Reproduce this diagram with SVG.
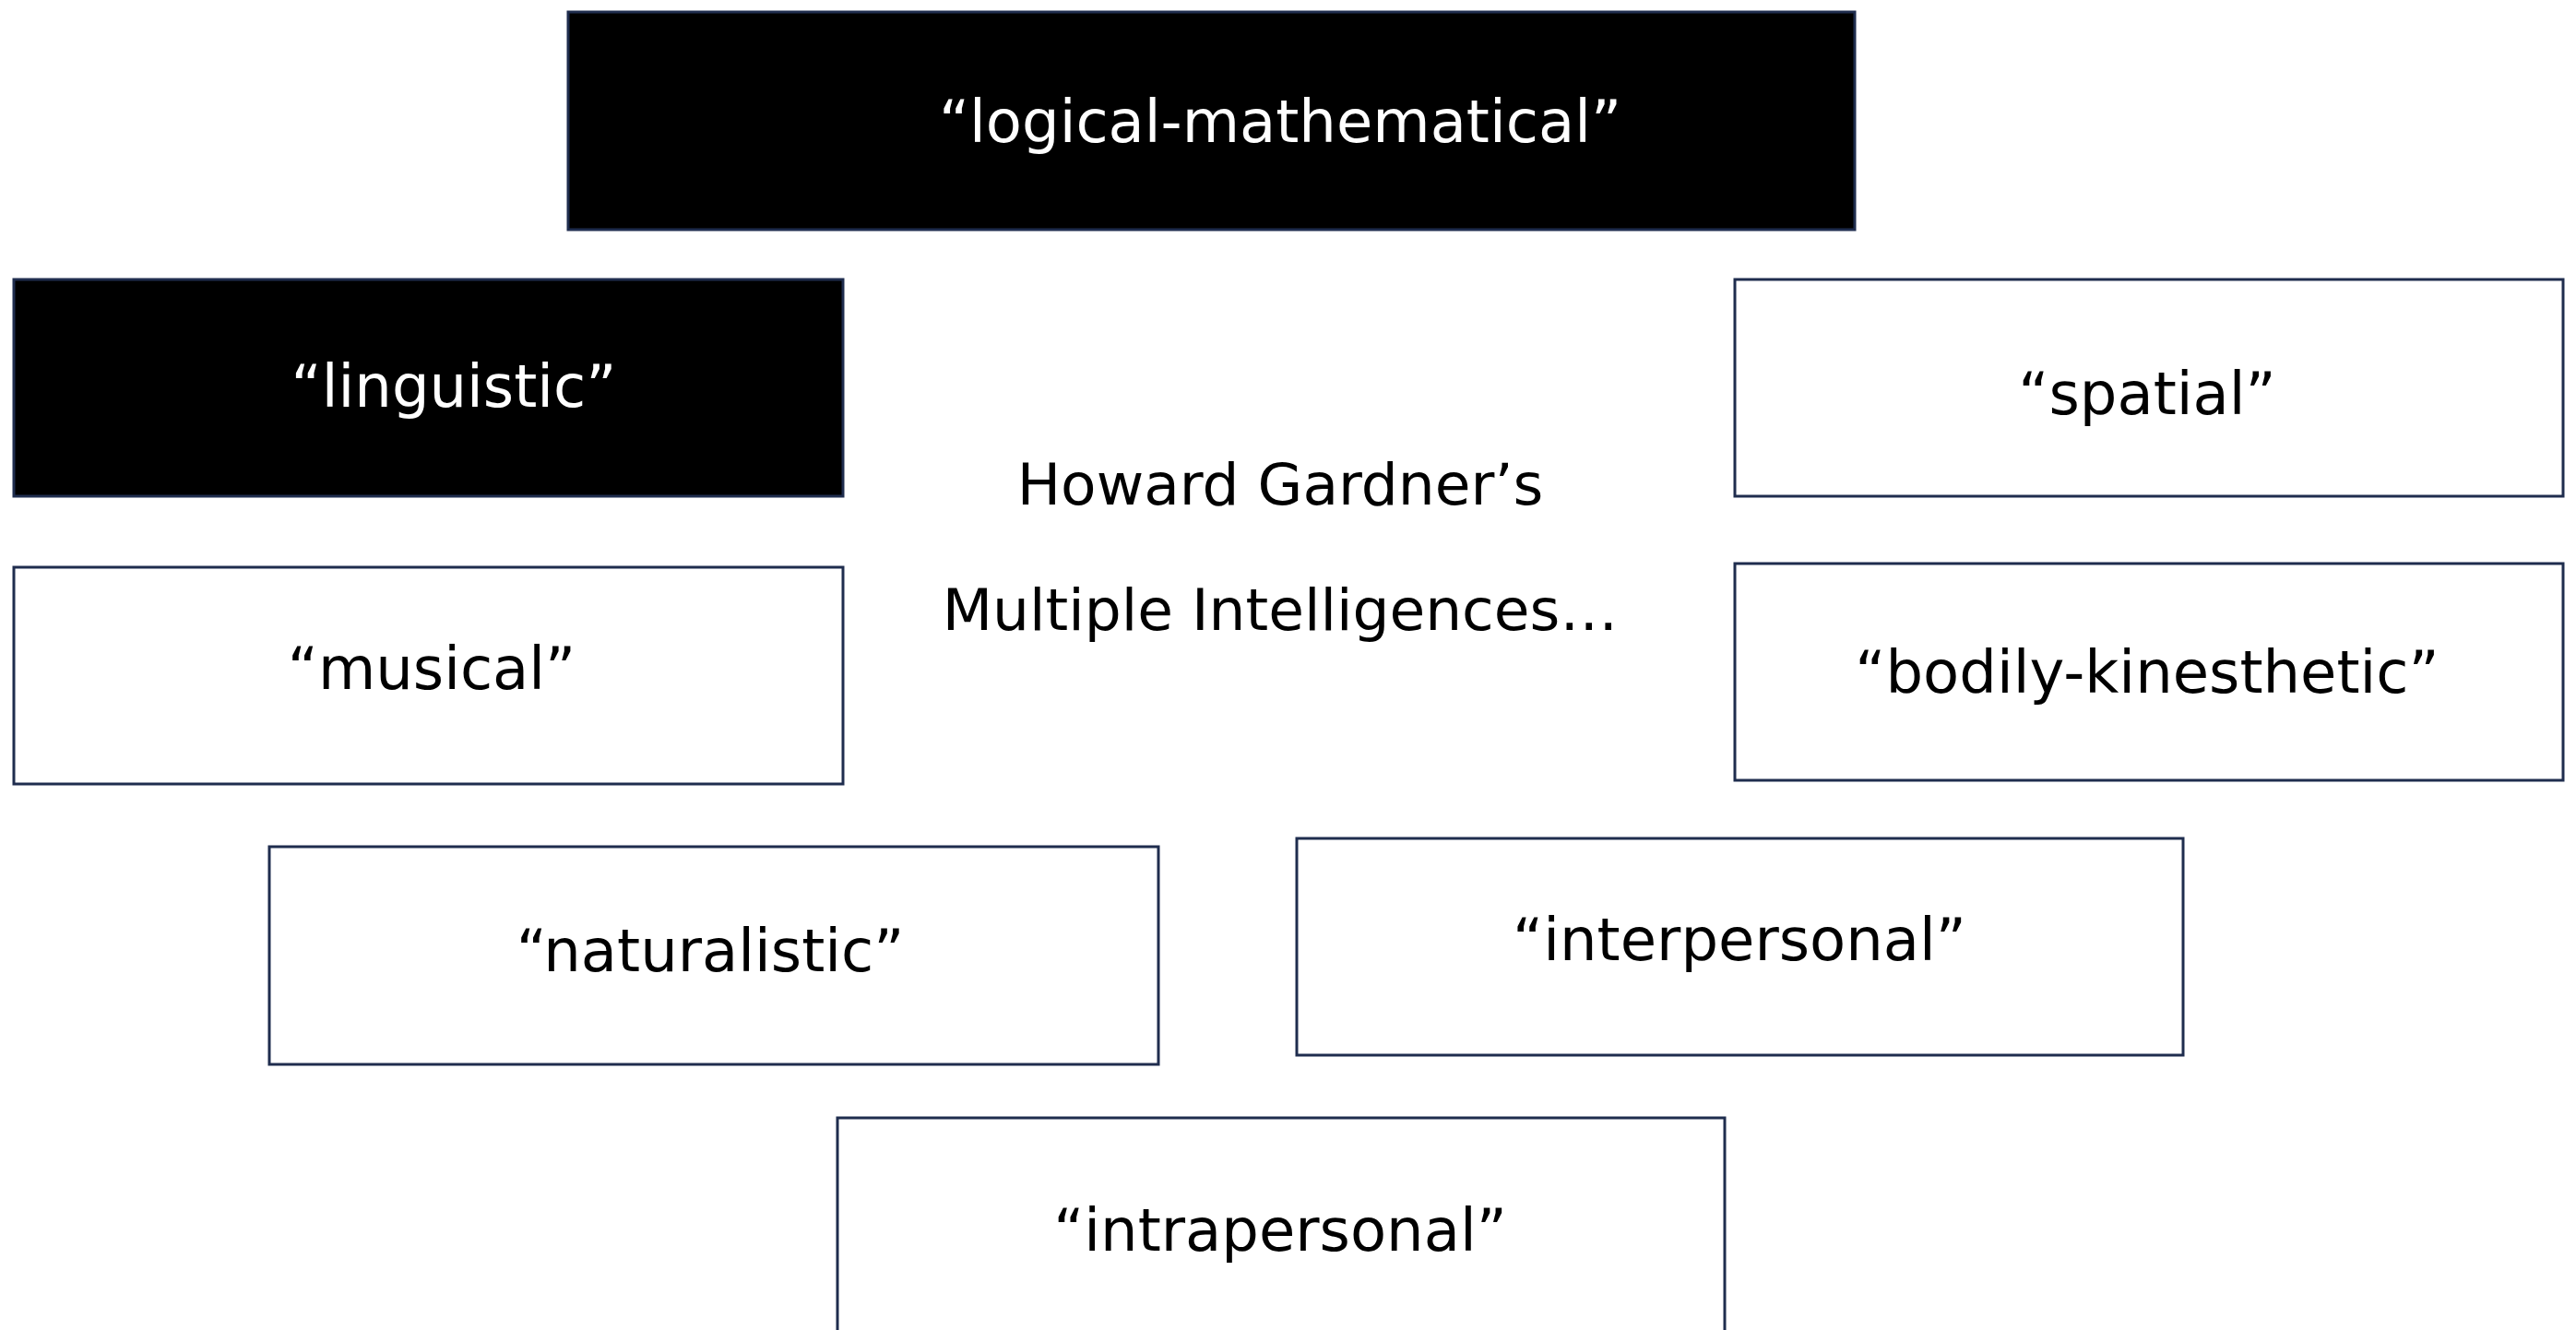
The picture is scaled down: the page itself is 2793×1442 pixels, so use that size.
<svg xmlns="http://www.w3.org/2000/svg" width="2793" height="1442" viewBox="0 0 2793 1442">
<style>
.box{stroke:#1f2d4e;stroke-width:3}
.dark{fill:#000}
.light{fill:#fff}
text{font-family:"DejaVu Sans",Verdana,sans-serif;font-size:64px;text-anchor:middle}
.wt{fill:#fff}
.bt{fill:#000}
.ttl{font-size:63px}
</style>
<rect width="2793" height="1442" fill="#fff"/>
<g id="connectors"></g>
<g id="n-logical"><rect class="box dark" x="616" y="13" width="1395" height="236"/><text class="wt" x="1388" y="154">“logical-mathematical”</text></g>
<g id="n-linguistic"><rect class="box dark" x="15" y="303" width="899" height="235"/><text class="wt" x="492" y="441">“linguistic”</text></g>
<g id="n-spatial"><rect class="box light" x="1881" y="303" width="898" height="235"/><text class="bt" x="2328" y="449">“spatial”</text></g>
<g id="n-musical"><rect class="box light" x="15" y="615" width="899" height="235"/><text class="bt" x="468" y="747">“musical”</text></g>
<g id="n-bodily"><rect class="box light" x="1881" y="611" width="898" height="235"/><text class="bt" x="2328" y="751">“bodily-kinesthetic”</text></g>
<g id="n-naturalistic"><rect class="box light" x="292" y="918" width="964" height="236"/><text class="bt" x="770" y="1053">“naturalistic”</text></g>
<g id="n-interpersonal"><rect class="box light" x="1406" y="909" width="961" height="235"/><text class="bt" x="1886" y="1041">“interpersonal”</text></g>
<g id="n-intrapersonal"><rect class="box light" x="908" y="1212" width="962" height="260"/><text class="bt" x="1388" y="1356">“intrapersonal”</text></g>
<g id="title"><text class="bt ttl" x="1388" y="547">Howard Gardner’s</text><text class="bt ttl" x="1388" y="683">Multiple Intelligences…</text></g>
</svg>
